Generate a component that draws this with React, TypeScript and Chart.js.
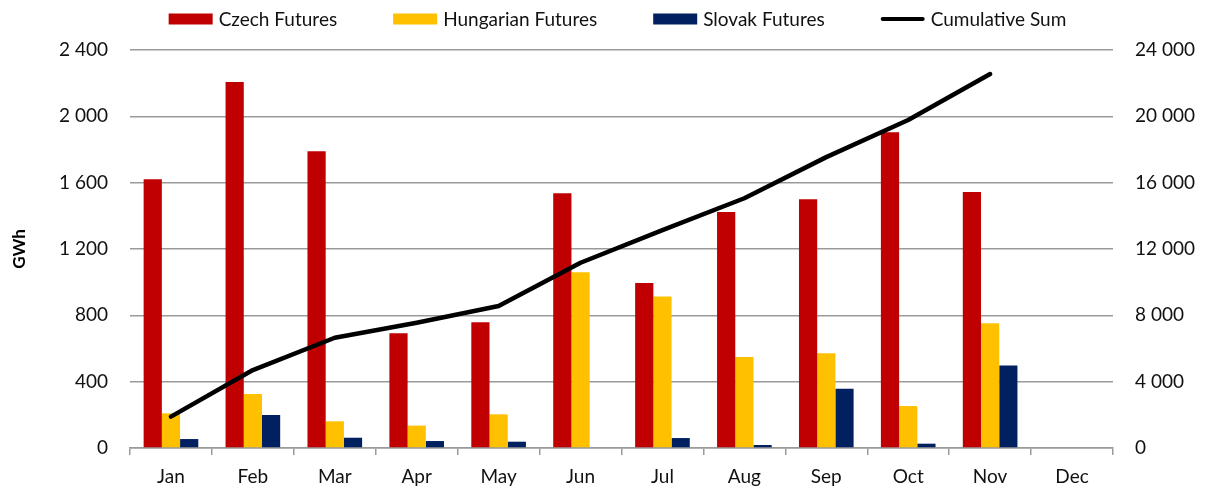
import React, { useEffect, useRef } from "react";
import { Chart, registerables } from "chart.js";

Chart.register(...registerables);

const months = ["Jan", "Feb", "Mar", "Apr", "May", "Jun", "Jul", "Aug", "Sep", "Oct", "Nov", "Dec"];
const czechFutures = [1620, 2207, 1790, 692, 758, 1536, 995, 1423, 1500, 1904, 1544, null];
const hungarianFutures = [209, 326, 161, 135, 203, 1060, 913, 549, 571, 253, 752, null];
const slovakFutures = [54, 199, 62, 42, 38, 0, 60, 18, 358, 26, 497, null];
const cumulativeSum = [1890, 4700, 6650, 7550, 8560, 11170, 13140, 15060, 17540, 19780, 22550, null];

const seriesNames = ["Czech Futures", "Hungarian Futures", "Slovak Futures", "Cumulative Sum"];
const seriesColors = ["#C00000", "#FFC000", "#002060", "#000000"];

const FONT = "Lato, 'Open Sans', sans-serif";
const TEXT = "#111111";
const GRID = "#9a9a9a";

const fmt = (v: number) => String(v).replace(/\B(?=(\d{3})+(?!\d))/g, " ");

const legendPlugin = {
  id: "topLegend",
  afterDraw(chart: any) {
    const ctx = chart.ctx as CanvasRenderingContext2D;
    ctx.save();
    ctx.font = `19px ${FONT}`;
    const box = 44;
    const gap = 6;
    const sep = 56;
    const widths = seriesNames.map((n) => ctx.measureText(n).width);
    const total = widths.reduce((s, w) => s + box + gap + w, 0) + sep * (seriesNames.length - 1);
    let x = 617.5 - total / 2;
    const cy = 19;
    seriesNames.forEach((name, i) => {
      if (i < 3) {
        ctx.fillStyle = seriesColors[i];
        ctx.fillRect(x, cy - 5.5, box, 11);
      } else {
        ctx.strokeStyle = seriesColors[i];
        ctx.lineWidth = 4;
        ctx.lineCap = "round";
        ctx.beginPath();
        ctx.moveTo(x + 2, cy);
        ctx.lineTo(x + box - 2, cy);
        ctx.stroke();
      }
      ctx.fillStyle = TEXT;
      ctx.textBaseline = "middle";
      ctx.textAlign = "left";
      ctx.fillText(name, x + box + gap, cy + 1);
      x += box + gap + widths[i] + sep;
    });
    ctx.restore();
  },
};

export default function App() {
  const ref = useRef<HTMLCanvasElement | null>(null);

  useEffect(() => {
    if (!ref.current) return;
    const chart = new Chart(ref.current, {
      type: "bar",
      data: {
        labels: months,
        datasets: [
          {
            type: "line",
            label: seriesNames[3],
            data: cumulativeSum as any,
            yAxisID: "y1",
            borderColor: seriesColors[3],
            backgroundColor: seriesColors[3],
            borderWidth: 4.5,
            pointRadius: 0,
            tension: 0,
            borderCapStyle: "round",
            borderJoinStyle: "round",
            order: 0,
          } as any,
          {
            label: seriesNames[0],
            data: czechFutures as any,
            backgroundColor: seriesColors[0],
            yAxisID: "y",
            order: 1,
          },
          {
            label: seriesNames[1],
            data: hungarianFutures as any,
            backgroundColor: seriesColors[1],
            yAxisID: "y",
            order: 2,
          },
          {
            label: seriesNames[2],
            data: slovakFutures as any,
            backgroundColor: seriesColors[2],
            yAxisID: "y",
            order: 3,
          },
        ],
      },
      options: {
        responsive: false,
        animation: false,
        maintainAspectRatio: false,
        layout: { padding: { top: 50, left: 0, right: 0, bottom: 0 } },
        datasets: {
          bar: { categoryPercentage: 0.667, barPercentage: 1.0 },
        } as any,
        plugins: {
          legend: { display: false },
          tooltip: { enabled: false },
        },
        scales: {
          x: {
            offset: true,
            grid: {
              display: true,
              drawOnChartArea: false,
              drawTicks: true,
              tickLength: 7,
              color: GRID,
              lineWidth: 1.5,
              offset: true,
            },
            border: { display: true, color: GRID, width: 1.5 },
            ticks: {
              color: TEXT,
              font: { family: FONT, size: 19 },
              padding: 10,
              maxRotation: 0,
              autoSkip: false,
            },
            afterFit(scale: any) {
              scale.height = 42;
            },
          },
          y: {
            position: "left",
            min: 0,
            max: 2400,
            ticks: {
              stepSize: 400,
              color: TEXT,
              padding: 22,
              font: { family: FONT, size: 19 },
              callback: (v: any) => fmt(Number(v)),
            },
            grid: { color: GRID, lineWidth: 1.5, drawTicks: false },
            border: { display: false },
            title: {
              display: true,
              text: "GWh",
              color: "#000",
              font: { family: FONT, size: 17, weight: "bold" },
              padding: { top: 9, bottom: 0 },
            },
            afterFit(scale: any) {
              scale.width = 130;
            },
          },
          y1: {
            position: "right",
            min: 0,
            max: 24000,
            ticks: {
              stepSize: 4000,
              color: TEXT,
              padding: 22,
              font: { family: FONT, size: 19 },
              callback: (v: any) => fmt(Number(v)),
            },
            grid: { display: false, drawTicks: false },
            border: { display: false },
            afterFit(scale: any) {
              scale.width = 94;
            },
          },
        },
      },
      plugins: [legendPlugin],
    });
    return () => chart.destroy();
  }, []);

  return (
    <div style={{ position: "fixed", left: 0, top: 0, width: 1207, height: 490, background: "#fff" }}>
      <canvas ref={ref} width={1207} height={490} style={{ display: "block", width: 1207, height: 490 }} />
    </div>
  );
}
